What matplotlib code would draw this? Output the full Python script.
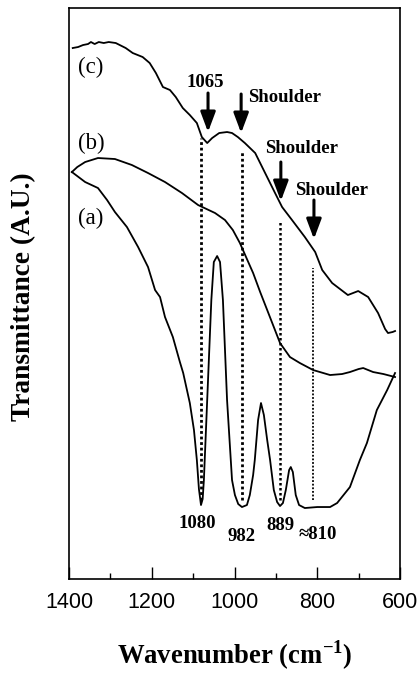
import matplotlib
matplotlib.use('Agg')
import matplotlib.pyplot as plt
from matplotlib.ticker import MultipleLocator

plt.rcParams['font.family'] = ['Liberation Serif', 'DejaVu Serif']
plt.rcParams['mathtext.fontset'] = 'custom'
plt.rcParams['mathtext.rm'] = 'Liberation Serif'
plt.rcParams['mathtext.bf'] = 'Liberation Serif:bold'

# spectra (wavenumber, transmittance in arbitrary units)
wn_c = [1391, 1378, 1366, 1354, 1347, 1338, 1328, 1316, 1304, 1287, 1263, 1246, 1222,
        1205, 1190, 1173, 1156, 1142, 1125, 1108, 1091, 1079, 1066, 1054, 1037,
        1018, 1006, 992, 975, 950, 926, 902, 885, 861, 830, 805, 788, 764, 726,
        701, 677, 653, 636, 629, 618, 612]
tr_c = [531, 532, 534, 535, 537, 535, 537, 536, 537, 536, 531, 526, 522,
        516, 506, 492, 489, 482, 471, 464, 456, 442, 436, 441, 446,
        447, 446, 442, 436, 426, 406, 386, 372, 359, 342, 327, 309, 296, 284,
        288, 282, 266, 250, 246, 247, 248]

wn_b = [1393, 1380, 1361, 1330, 1289, 1248, 1209, 1168, 1127, 1088, 1047, 1023,
        1004, 987, 970, 955, 938, 921, 905, 890, 866, 842, 810, 769, 740, 721,
        700, 689, 665, 640, 612]
tr_b = [407, 412, 417, 421, 420, 414, 406, 397, 386, 374, 366, 359,
        349, 336, 320, 306, 287, 269, 252, 236, 222, 216, 209, 204, 205, 207,
        210, 211, 207, 205, 202]

wn_a = [1393, 1361, 1330, 1308, 1289, 1260, 1233, 1209, 1192, 1180, 1168, 1149,
        1132, 1124, 1108, 1098, 1091, 1086, 1081, 1077, 1074, 1066, 1056, 1050,
        1042, 1035, 1028, 1018, 1006, 999, 991, 982, 970, 963, 955, 951, 943,
        936, 929, 921, 914, 905, 897, 890, 883, 876, 868, 864, 859, 852, 844,
        830, 800, 769, 752, 721, 697, 680, 656, 631, 612]
tr_a = [407, 397, 391, 379, 367, 352, 332, 312, 289, 282, 262, 242,
        217, 206, 176, 149, 119, 90, 74, 80, 99, 179, 279, 317,
        323, 317, 279, 179, 99, 84, 75, 72, 74, 84, 104, 119, 159,
        176, 164, 139, 119, 89, 77, 73, 76, 89, 109, 112, 107, 84, 74,
        71, 72, 72, 76, 92, 119, 136, 169, 189, 206]

peak_pos = [1080, 982, 889, 810]
peak_text = ['1080', '982', '889', '\u2248810']
peak_text_y = [56, 43, 54, 45]
peak_text_x = [1091, 984, 888, 798]
line_top = [441, 428, 359, 311]

arrow_x = [1064, 984, 888, 808]
arrow_top = [486, 485, 417, 379]
arrow_len = 39

fig = plt.figure(figsize=(4.2, 6.74), dpi=100)
ax = fig.add_axes([0.1643, 0.1409, 0.7881, 0.8472])

for wn, tr in [(wn_a, tr_a), (wn_b, tr_b), (wn_c, tr_c)]:
    ax.plot(wn, tr, color='black', lw=1.3)

# dotted marker lines
widths = [2.0, 2.0, 1.8, 1.3]
for p, top, w in zip(peak_pos, line_top, widths):
    ax.plot([p, p], [79, top], color='black', lw=w, linestyle=(0, (1, 1)))

for tx, ty, t in zip(peak_text_x, peak_text_y, peak_text):
    ax.text(tx, ty, t, fontsize=13.5, fontweight='bold', ha='center', va='center')

# arrows
for x, top in zip(arrow_x, arrow_top):
    ax.annotate('', xy=(x, top - arrow_len), xytext=(x, top),
                arrowprops=dict(arrowstyle='-|>,head_width=0.3,head_length=0.8',
                                lw=2.2, color='black', mutation_scale=15,
                                shrinkA=0, shrinkB=0))
ax.text(1071, 497, '1065', fontsize=13.5, fontweight='bold', ha='center', va='center')
ax.text(967, 482, 'Shoulder', fontsize=13.5, fontweight='bold', ha='left', va='center')
ax.text(926, 431, 'Shoulder', fontsize=13.5, fontweight='bold', ha='left', va='center')
ax.text(854, 389, 'Shoulder', fontsize=13.5, fontweight='bold', ha='left', va='center')

ax.text(1378, 512, '(c)', fontsize=16.5, ha='left', va='center')
ax.text(1378, 436, '(b)', fontsize=16.5, ha='left', va='center')
ax.text(1378, 361, '(a)', fontsize=16.5, ha='left', va='center')

ax.set_xlim(1400, 600)
ax.set_ylim(0, 571)
ax.set_yticks([])
ax.xaxis.set_major_locator(MultipleLocator(200))
ax.xaxis.set_minor_locator(MultipleLocator(100))
ax.tick_params(axis='x', which='major', direction='in', length=8.6, width=1, pad=9)
ax.tick_params(axis='x', which='minor', direction='in', length=4.3, width=1)
for lab in ax.get_xticklabels():
    lab.set_fontfamily('Liberation Sans')
    lab.set_fontsize(15.5)
for s in ax.spines.values():
    s.set_linewidth(1.2)

ax.set_ylabel('Transmittance (A.U.)', fontsize=19.7, fontweight='bold')
ax.yaxis.set_label_coords(-0.136, 0.494)
ax.yaxis.label.set_va('center')
ax.set_xlabel(r'Wavenumber (cm$^{\mathbf{-1}}$)', fontsize=19.2, fontweight='bold')
ax.xaxis.set_label_coords(0.5, -0.134)
ax.xaxis.label.set_va('center')

fig.savefig('out.png', dpi=100)
